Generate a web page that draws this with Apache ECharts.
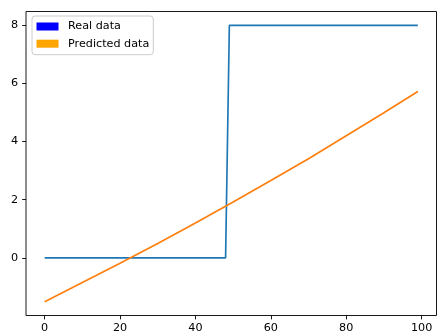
<!DOCTYPE html>
<html>
<head>
<meta charset="utf-8">
<script src="https://cdn.jsdelivr.net/npm/echarts@6/dist/echarts.min.js"></script>
<style>
  html, body { margin: 0; padding: 0; background: #fff; }
  #chart { width: 437px; height: 334px; }
</style>
</head>
<body>
<div id="chart"></div>
<script>
// Measured signal: breakpoints of the step (x, value)
const realData = [[0, 0], [48, 0], [49, 8], [99, 8]];

// Model output sampled along x
const predX = [0, 10, 20, 30, 40, 50, 60, 70, 80, 90, 99];
const predY = [-1.51, -0.85, -0.19, 0.49, 1.20, 1.92, 2.66, 3.41, 4.20, 4.99, 5.72];

const xTicks = [0, 20, 40, 60, 80, 100];
const yTicks = [0, 2, 4, 6, 8];

const seriesNames = ['Real data', 'Predicted data'];
const lineColors = ['#1f77b4', '#ff7f0e'];
const legendColors = ['#0000ff', '#ffa500'];

// Axis limits with a 5% margin around the data extent
const xLo = 0, xHi = 99;
const yLo = Math.min(...predY), yHi = 8;
const xPad = (xHi - xLo) * 0.05, yPad = (yHi - yLo) * 0.05;

const font = 'DejaVu Sans';
const fs = 11.2;
const axisCommon = {
  axisLine: { show: false, onZero: false },
  axisTick: { show: true, inside: false, length: 3.9, lineStyle: { color: '#000', width: 0.9 } },
  axisLabel: { color: '#000', fontFamily: font, fontSize: fs, margin: 7.5 },
  splitLine: { show: false }
};

const chart = echarts.init(document.getElementById('chart'), null, { renderer: 'canvas' });
chart.setOption({
  animation: false,
  backgroundColor: '#fff',
  grid: {
    left: 26, right: 0.5, top: 11.5, bottom: 17,
    show: true, borderColor: '#000', borderWidth: 0.9, backgroundColor: 'transparent'
  },
  xAxis: Object.assign({}, axisCommon, {
    type: 'value', min: xLo - xPad, max: xHi + xPad,
    axisTick: Object.assign({}, axisCommon.axisTick, { customValues: xTicks }),
    axisLabel: Object.assign({}, axisCommon.axisLabel, { customValues: xTicks })
  }),
  yAxis: Object.assign({}, axisCommon, {
    type: 'value', min: yLo - yPad, max: yHi + yPad,
    axisTick: Object.assign({}, axisCommon.axisTick, { customValues: yTicks }),
    axisLabel: Object.assign({}, axisCommon.axisLabel, { customValues: yTicks, margin: 8 })
  }),
  legend: {
    left: 32, top: 16, orient: 'vertical',
    icon: 'rect', itemWidth: 22, itemHeight: 8, itemGap: 4.2,
    padding: [4, 4, 4.5, 4.5],
    backgroundColor: 'rgba(255,255,255,0.8)',
    borderColor: '#cccccc', borderWidth: 1, borderRadius: 3,
    textStyle: { fontFamily: font, fontSize: fs, color: '#000', lineHeight: 13, padding: [0, 0, 0, 4.5] },
    data: seriesNames.map((n, i) => ({ name: n, itemStyle: { color: legendColors[i] } }))
  },
  series: [
    {
      name: seriesNames[0], type: 'line', data: realData,
      showSymbol: false, symbol: 'none',
      lineStyle: { color: lineColors[0], width: 1.67 }, itemStyle: { color: lineColors[0] }
    },
    {
      name: seriesNames[1], type: 'line', data: predX.map((x, i) => [x, predY[i]]),
      showSymbol: false, symbol: 'none',
      lineStyle: { color: lineColors[1], width: 1.67 }, itemStyle: { color: lineColors[1] }
    }
  ]
});
</script>
</body>
</html>
